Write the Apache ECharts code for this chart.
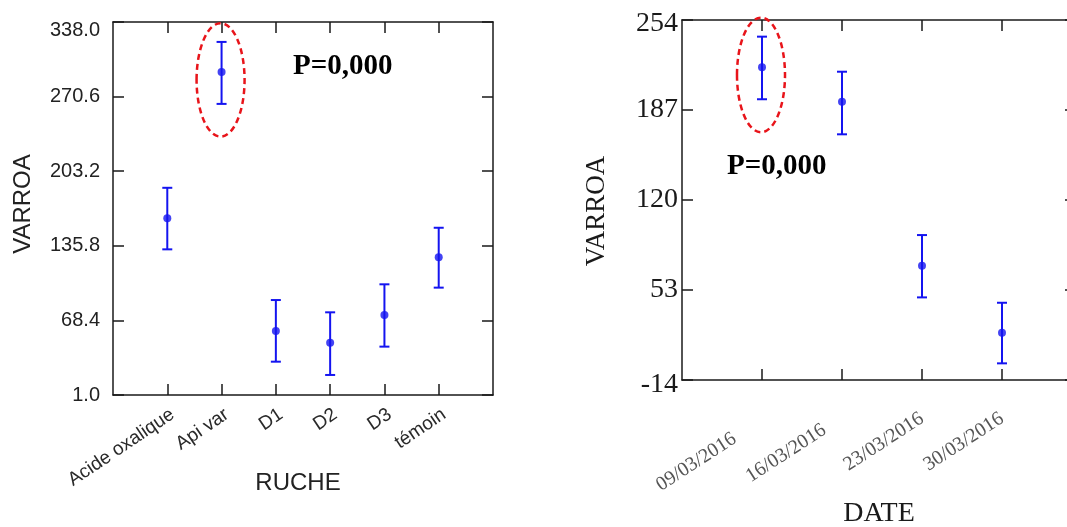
<!DOCTYPE html>
<html>
<head>
<meta charset="utf-8">
<script src="https://cdn.jsdelivr.net/npm/echarts@6/dist/echarts.min.js"></script>
<style>
  html, body { margin: 0; padding: 0; background: #fff; }
  #chart { width: 1067px; height: 527px; }
</style>
</head>
<body>
<div id="chart"></div>
<script>
// graphique de gauche : VARROA par RUCHE
const ruches = ['Acide oxalique', 'Api var', 'D1', 'D2', 'D3', 'témoin'];
const ruchesMoy = [160.6, 292.9, 58.8, 48.3, 73.3, 125.4];
const ruchesBas = [132.6, 264.0, 31.1, 19.1, 44.7, 98.0];
const ruchesHaut = [188.2, 320.0, 86.8, 75.7, 101.0, 152.1];
const ruchesTicks = [1.0, 68.4, 135.8, 203.2, 270.6, 338.0];

// graphique de droite : VARROA par DATE
const dates = ['09/03/2016', '16/03/2016', '23/03/2016', '30/03/2016'];
const datesMoy = [218.8, 193.2, 71.1, 21.2];
const datesBas = [195.0, 168.9, 47.5, -1.6];
const datesHaut = [241.6, 215.5, 93.9, 43.5];
const datesTicks = [-14, 53, 120, 187, 254];

const pValeur = 'P=0,000';

const BLUE = '#1414f0';
const RED = '#e8141a';
const AXIS = '#1a1a1a';

const chart = echarts.init(document.getElementById('chart'));

const ruchePos = ruches.map((_, i) => i + 1);
const datePos = dates.map((_, i) => i + 1);

// barres d'erreur
function renderErr(params, api) {
  const x = api.value(0);
  const lo = api.coord([x, api.value(1)]);
  const hi = api.coord([x, api.value(2)]);
  const hw = 5;
  const style = { stroke: BLUE, lineWidth: 2 };
  return {
    type: 'group',
    children: [
      { type: 'line', shape: { x1: lo[0], y1: lo[1], x2: hi[0], y2: hi[1] }, style },
      { type: 'line', shape: { x1: lo[0] - hw, y1: lo[1], x2: lo[0] + hw, y2: lo[1] }, style },
      { type: 'line', shape: { x1: hi[0] - hw, y1: hi[1], x2: hi[0] + hw, y2: hi[1] }, style }
    ]
  };
}

// ellipse rouge autour du groupe mis en évidence
function renderEllipse(params, api) {
  const x = api.value(0);
  const lo = api.coord([x, api.value(1)]);
  const hi = api.coord([x, api.value(2)]);
  const half = (lo[1] - hi[1]) / 2;
  return {
    type: 'ellipse',
    shape: { cx: lo[0] - 1, cy: (lo[1] + hi[1]) / 2 + 7, rx: 24, ry: half * 1.83 },
    style: { fill: 'none', stroke: RED, lineWidth: 2.5, lineDash: [6, 4] }
  };
}

function xAxes(gridIndex, max, pos, names, labelStyle) {
  const tick = { show: true, inside: true, length: 11, customValues: pos, lineStyle: { color: AXIS, width: 1.5 } };
  const line = { show: true, onZero: false, lineStyle: { color: AXIS, width: 1.5 } };
  return [
    {
      gridIndex, type: 'value', min: 0, max, position: 'bottom', nameMoveOverlap: false,
      axisLine: line, axisTick: tick, splitLine: { show: false },
      axisLabel: Object.assign({ customValues: pos, formatter: v => names[Math.round(v) - 1] || '' }, labelStyle)
    },
    {
      gridIndex, type: 'value', min: 0, max, position: 'top',
      axisLine: line, axisTick: tick, splitLine: { show: false }, axisLabel: { show: false }
    }
  ];
}

function yAxes(gridIndex, ticks, labelStyle, name, nameStyle, nameGap) {
  const tick = { show: true, inside: true, length: 11, customValues: ticks, lineStyle: { color: AXIS, width: 1.5 } };
  const line = { show: true, onZero: false, lineStyle: { color: AXIS, width: 1.5 } };
  return [
    {
      gridIndex, type: 'value', min: ticks[0], max: ticks[ticks.length - 1], position: 'left',
      axisLine: line, axisTick: tick, splitLine: { show: false },
      axisLabel: Object.assign({ customValues: ticks }, labelStyle),
      name, nameLocation: 'middle', nameGap, nameTextStyle: nameStyle, nameMoveOverlap: false
    },
    {
      gridIndex, type: 'value', min: ticks[0], max: ticks[ticks.length - 1], position: 'right',
      axisLine: line, axisTick: tick, splitLine: { show: false }, axisLabel: { show: false }
    }
  ];
}

const leftX = xAxes(0, 7, ruchePos, ruches, {
  rotate: 34, margin: 10, verticalAlign: 'top', fontFamily: 'Liberation Sans', fontSize: 19, color: '#2a2a2a'
});
leftX[0].name = 'RUCHE';
leftX[0].nameLocation = 'middle';
leftX[0].nameGap = 76;
leftX[0].nameTextStyle = { fontFamily: 'Liberation Sans', fontSize: 24, color: '#222', padding: [0, 10, 0, 0] };

const serifLab = { fontFamily: 'Liberation Serif', fontSize: 20, color: '#555' };
const rightX = xAxes(1, 4.925, datePos, dates, {
  rotate: 33, margin: 37, fontFamily: 'Liberation Serif', fontSize: 20, color: '#555',
  formatter: (v) => {
    const i = Math.round(v) - 1;
    const decal = ['a', 'b', 'c', 'c'][i];
    return '{' + decal + '|' + (dates[i] || '') + '}';
  },
  rich: {
    a: Object.assign({ padding: [4, 34, 0, 0] }, serifLab),
    b: Object.assign({ padding: [0, 21, 0, 0] }, serifLab),
    c: serifLab
  }
});
rightX[0].name = 'DATE';
rightX[0].nameLocation = 'middle';
rightX[0].nameGap = 120;
rightX[0].nameTextStyle = { fontFamily: 'Liberation Serif', fontSize: 28, color: '#1a1a1a' };

const sansTick = { fontFamily: 'Liberation Sans', fontSize: 20, color: '#222' };
const leftY = yAxes(0, ruchesTicks, {
  margin: 13, fontFamily: 'Liberation Sans', fontSize: 20, color: '#222',
  formatter: v => (v === ruchesTicks[ruchesTicks.length - 1] ? '{bas|' + v.toFixed(1) + '}' : v.toFixed(1)),
  rich: { bas: Object.assign({ padding: [16, 0, 0, 0] }, sansTick) }
}, 'VARROA', { fontFamily: 'Liberation Sans', fontSize: 24, color: '#222', padding: [0, 0, 0, 9] }, 78);

const serifTick = { fontFamily: 'Liberation Serif', fontSize: 28, color: '#1a1a1a' };
const rightY = yAxes(1, datesTicks, {
  margin: 4, fontFamily: 'Liberation Serif', fontSize: 28, color: '#1a1a1a',
  formatter: v => {
    const s = String(Math.round(v));
    if (v === datesTicks[datesTicks.length - 1]) return '{haut|' + s + '}';
    if (v === datesTicks[0]) return '{bas|' + s + '}';
    return s;
  },
  rich: {
    haut: Object.assign({ padding: [7, 0, 0, 0] }, serifTick),
    bas: Object.assign({ padding: [10, 0, 0, 0] }, serifTick)
  }
}, 'VARROA', { fontFamily: 'Liberation Serif', fontSize: 27, color: '#1a1a1a', padding: [0, 22, 0, 0] }, 72);

chart.setOption({
  backgroundColor: '#fff',
  animation: false,
  grid: [
    { left: 113, top: 22, width: 380, height: 373, outerBoundsMode: 'none' },
    { left: 682, top: 20, width: 394, height: 360, outerBoundsMode: 'none' }
  ],
  xAxis: [...leftX, ...rightX],
  yAxis: [...leftY, ...rightY],
  graphic: [
    { type: 'text', left: 293, top: 52, style: { text: pValeur, font: 'bold 29px "Liberation Serif"', fill: '#000' } },
    { type: 'text', left: 727, top: 152, style: { text: pValeur, font: 'bold 29px "Liberation Serif"', fill: '#000' } }
  ],
  series: [
    {
      type: 'custom', xAxisIndex: 0, yAxisIndex: 0, renderItem: renderErr,
      data: ruchePos.map((x, i) => [x, ruchesBas[i], ruchesHaut[i]])
    },
    {
      type: 'scatter', xAxisIndex: 0, yAxisIndex: 0, symbolSize: 8,
      itemStyle: { color: BLUE }, data: ruchePos.map((x, i) => [x, ruchesMoy[i]])
    },
    {
      type: 'custom', xAxisIndex: 0, yAxisIndex: 0, renderItem: renderEllipse,
      data: [[ruchePos[1], ruchesBas[1], ruchesHaut[1]]]
    },
    {
      type: 'custom', xAxisIndex: 2, yAxisIndex: 2, renderItem: renderErr,
      data: datePos.map((x, i) => [x, datesBas[i], datesHaut[i]])
    },
    {
      type: 'scatter', xAxisIndex: 2, yAxisIndex: 2, symbolSize: 8,
      itemStyle: { color: BLUE }, data: datePos.map((x, i) => [x, datesMoy[i]])
    },
    {
      type: 'custom', xAxisIndex: 2, yAxisIndex: 2, renderItem: renderEllipse,
      data: [[datePos[0], datesBas[0], datesHaut[0]]]
    }
  ]
});
</script>
</body>
</html>
